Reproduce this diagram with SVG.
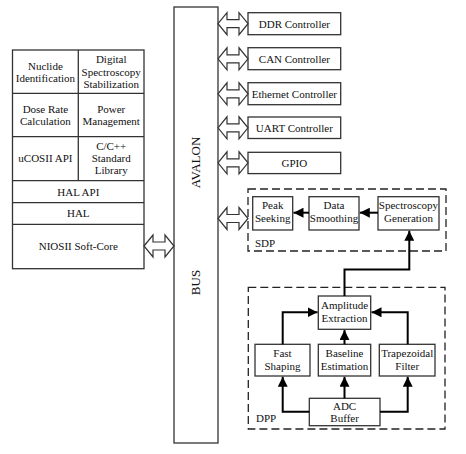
<svg xmlns="http://www.w3.org/2000/svg" width="466" height="454" viewBox="0 0 466 454">
<style>
.box{fill:#fff;stroke:#333;stroke-width:1.3}
.dash{fill:none;stroke:#222;stroke-width:1.3;stroke-dasharray:8 4}
.t{font-family:"Liberation Serif","Times New Roman",serif;font-size:11px;fill:#111;text-anchor:middle}
.tl{font-family:"Liberation Serif","Times New Roman",serif;font-size:11px;fill:#111}
.bt{font-family:"Liberation Serif","Times New Roman",serif;font-size:13px;fill:#111;text-anchor:middle}
.ln{fill:none;stroke:#000;stroke-width:2}
.dbl{fill:#fff;stroke:#333;stroke-width:1.2;stroke-linejoin:miter}
</style>
<defs>
<marker id="ah" viewBox="0 0 10 10" refX="10" refY="5" markerWidth="5" markerHeight="5" orient="auto" markerUnits="strokeWidth">
<path d="M0,0 L10,5 L0,10 Z" fill="#000"/>
</marker>
<path id="dbl" d="M0,0 L9,-11 L9,-4 L21,-4 L21,-11 L30,0 L21,11 L21,4 L9,4 L9,11 Z"/>
</defs>

<!-- Software stack -->
<g id="stack">
<rect class="box" x="12.5" y="50" width="131.5" height="218.7"/>
<line class="box" x1="12.5" y1="93.3" x2="144" y2="93.3"/>
<line class="box" x1="12.5" y1="136.7" x2="144" y2="136.7"/>
<line class="box" x1="12.5" y1="180.7" x2="144" y2="180.7"/>
<line class="box" x1="12.5" y1="202.7" x2="144" y2="202.7"/>
<line class="box" x1="12.5" y1="224.3" x2="144" y2="224.3"/>
<line class="box" x1="78.3" y1="50" x2="78.3" y2="180.7"/>
</g>
<g id="nuclide"><text class="t" x="45.4" y="69.5">Nuclide</text><text class="t" x="45.4" y="82">Identification</text></g>
<g id="dss"><text class="t" x="111.2" y="63">Digital</text><text class="t" x="111.2" y="75.7">Spectroscopy</text><text class="t" x="111.2" y="88">Stabilization</text></g>
<g id="dose"><text class="t" x="45.4" y="112.7">Dose Rate</text><text class="t" x="45.4" y="124.5">Calculation</text></g>
<g id="power"><text class="t" x="111.2" y="112.7">Power</text><text class="t" x="111.2" y="124.5">Management</text></g>
<g id="ucos"><text class="t" x="45.4" y="162">uCOSII API</text></g>
<g id="clib"><text class="t" x="111.2" y="150">C/C++</text><text class="t" x="111.2" y="162">Standard</text><text class="t" x="111.2" y="174">Library</text></g>
<g id="halapi"><text class="t" x="78.3" y="196">HAL API</text></g>
<g id="hal"><text class="t" x="78.3" y="217">HAL</text></g>
<g id="nios"><text class="t" x="78.3" y="249.5">NIOSII Soft-Core</text></g>

<!-- Bus -->
<g id="bus">
<rect class="box" x="174" y="7" width="44" height="436"/>
<text class="bt" transform="translate(200,162.5) rotate(-90)">AVALON</text>
<text class="bt" transform="translate(200,282.5) rotate(-90)">BUS</text>
</g>

<!-- Peripherals -->
<g id="ddr"><rect class="box" x="248" y="12.7" width="92.7" height="22"/><text class="t" x="294.4" y="27.5">DDR Controller</text></g>
<g id="can"><rect class="box" x="248" y="47.7" width="92.7" height="22"/><text class="t" x="294.4" y="62.5">CAN Controller</text></g>
<g id="eth"><rect class="box" x="248" y="82.7" width="92.7" height="22"/><text class="t" x="294.4" y="97.5">Ethernet Controller</text></g>
<g id="uart"><rect class="box" x="248" y="117" width="92.7" height="21.5"/><text class="t" x="294.4" y="131.7">UART Controller</text></g>
<g id="gpio"><rect class="box" x="248" y="152.3" width="92.7" height="21.3"/><text class="t" x="294.4" y="166.8">GPIO</text></g>

<!-- SDP -->
<g id="sdp"><rect class="dash" x="248" y="189" width="198" height="62"/><text class="tl" x="255" y="246.5">SDP</text></g>
<g id="peak"><rect class="box" x="252.7" y="196.7" width="40" height="33.3"/><text class="t" x="272.7" y="209">Peak</text><text class="t" x="272.7" y="222.3">Seeking</text></g>
<g id="smooth"><rect class="box" x="309" y="196.7" width="50" height="33.3"/><text class="t" x="334" y="209">Data</text><text class="t" x="334" y="222.3">Smoothing</text></g>
<g id="specgen"><rect class="box" x="378" y="196.7" width="61" height="33.3"/><text class="t" x="408.5" y="209">Spectroscopy</text><text class="t" x="408.5" y="222.3">Generation</text></g>

<!-- DPP -->
<g id="dpp"><rect class="dash" x="248.3" y="287.3" width="196.7" height="141.7"/><text class="tl" x="256" y="421.7">DPP</text></g>
<g id="amp"><rect class="box" x="318.3" y="296" width="52.4" height="33.3"/><text class="t" x="344.5" y="308.5">Amplitude</text><text class="t" x="344.5" y="321.7">Extraction</text></g>
<g id="fast"><rect class="box" x="255" y="344.3" width="55" height="31.7"/><text class="t" x="282.5" y="357">Fast</text><text class="t" x="282.5" y="370">Shaping</text></g>
<g id="baseline"><rect class="box" x="318.3" y="344.3" width="52.4" height="31.7"/><text class="t" x="344.5" y="357">Baseline</text><text class="t" x="344.5" y="370">Estimation</text></g>
<g id="trap"><rect class="box" x="379.3" y="344.3" width="55.7" height="31.7"/><text class="t" x="407.2" y="357">Trapezoidal</text><text class="t" x="407.2" y="370">Filter</text></g>
<g id="adc"><rect class="box" x="309.3" y="398.3" width="70.7" height="27.4"/><text class="t" x="344.6" y="409.5">ADC</text><text class="t" x="344.6" y="421.5">Buffer</text></g>

<!-- Connectors -->
<g id="connectors">
<use href="#dbl" class="dbl" transform="translate(144,246)"/>
<use href="#dbl" class="dbl" transform="translate(218,23.7)"/>
<use href="#dbl" class="dbl" transform="translate(218,58.8)"/>
<use href="#dbl" class="dbl" transform="translate(218,93.8)"/>
<use href="#dbl" class="dbl" transform="translate(218,127.8)"/>
<use href="#dbl" class="dbl" transform="translate(218,162.8)"/>
<use href="#dbl" class="dbl" transform="translate(218,218.5)"/>
<path class="ln" marker-end="url(#ah)" d="M309,212.7 H293.5"/>
<path class="ln" marker-end="url(#ah)" d="M378,212.7 H359.8"/>
<path class="ln" marker-end="url(#ah)" d="M344.5,296 V269.5 H409.3 V230.8"/>
<path class="ln" marker-end="url(#ah)" d="M309.3,411.7 H282.7 V376.8"/>
<path class="ln" marker-end="url(#ah)" d="M380,411.7 H407.7 V376.8"/>
<path class="ln" marker-end="url(#ah)" d="M344.5,398.3 V376.8"/>
<path class="ln" marker-end="url(#ah)" d="M344.5,344.3 V330.1"/>
<path class="ln" marker-end="url(#ah)" d="M282.7,344.3 V312.3 H317.5"/>
<path class="ln" marker-end="url(#ah)" d="M407.7,344.3 V312.3 H371.5"/>
</g>
</svg>
